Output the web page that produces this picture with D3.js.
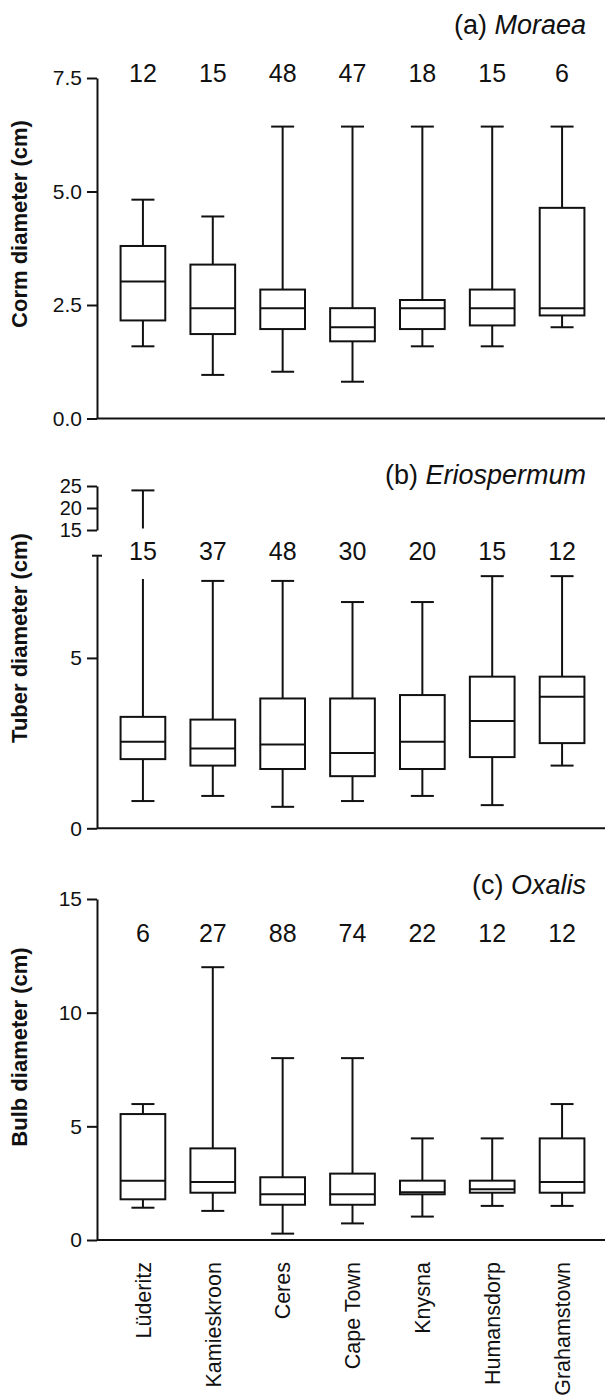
<!DOCTYPE html>
<html>
<head>
<meta charset="utf-8">
<script src="https://cdn.jsdelivr.net/npm/d3@7"></script>
<style>
  body { margin: 0; background: #fff; }
  svg { display: block; }
  text { font-family: "Liberation Sans", Arial, Helvetica, sans-serif; fill: #111; }
</style>
</head>
<body>
<div id="chart"></div>
<script>
// sites along the x axis
var sites = ["Lüderitz", "Kamieskroon", "Ceres", "Cape Town", "Knysna", "Humansdorp", "Grahamstown"];

// (a) Moraea corm diameter
var moraeaMin = [1.59, 0.96, 1.03, 0.81, 1.59, 1.59, 2.01];
var moraeaQ1  = [2.16, 1.86, 1.97, 1.70, 1.97, 2.05, 2.27];
var moraeaMed = [3.02, 2.43, 2.43, 2.01, 2.43, 2.43, 2.43];
var moraeaQ3  = [3.80, 3.39, 2.84, 2.43, 2.61, 2.84, 4.64];
var moraeaMax = [4.82, 4.45, 6.43, 6.43, 6.43, 6.43, 6.43];
var moraeaN   = [12, 15, 48, 47, 18, 15, 6];

// (b) Eriospermum tuber diameter
var erioMin = [0.80, 0.95, 0.63, 0.80, 0.95, 0.68, 1.84];
var erioQ1  = [2.03, 1.84, 1.74, 1.53, 1.74, 2.09, 2.50];
var erioMed = [2.54, 2.34, 2.46, 2.21, 2.54, 3.15, 3.86];
var erioQ3  = [3.27, 3.19, 3.81, 3.81, 3.91, 4.45, 4.45];
var erioMax = [24, 7.26, 7.26, 6.64, 6.64, 7.40, 7.40];
var erioN   = [15, 37, 48, 30, 20, 15, 12];

// (c) Oxalis bulb diameter
var oxalisMin = [1.42, 1.28, 0.28, 0.73, 1.03, 1.50, 1.50];
var oxalisQ1  = [1.79, 2.08, 1.55, 1.55, 2.01, 2.08, 2.08];
var oxalisMed = [2.61, 2.55, 2.01, 2.01, 2.10, 2.23, 2.55];
var oxalisQ3  = [5.54, 4.03, 2.76, 2.92, 2.61, 2.61, 4.47];
var oxalisMax = [5.98, 12.0, 8.0, 8.0, 4.47, 4.47, 5.98];
var oxalisN   = [6, 27, 88, 74, 22, 12, 12];

// tick labels
var moraeaTicks = [0, 2.5, 5, 7.5];
var erioTicks = [0, 5];
var erioUpperTicks = [15, 20, 25];
var oxalisTicks = [0, 5, 10, 15];

var width = 605, height = 1395;
var axisX = 97;

var svg = d3.select("#chart").append("svg")
    .attr("width", width)
    .attr("height", height);

var x = d3.scaleBand()
    .domain(sites)
    .range([108, 597])
    .paddingInner(0.36)
    .paddingOuter(0.18);

function stats(mins, q1s, meds, q3s, maxs, ns) {
  return sites.map(function(s, i) {
    return {site: s, min: mins[i], q1: q1s[i], med: meds[i], q3: q3s[i], max: maxs[i], n: ns[i]};
  });
}

function yAxis(y, ticks, fmt) {
  var g = svg.append("g")
      .attr("transform", "translate(" + axisX + ",0)")
      .call(d3.axisLeft(y).tickValues(ticks).tickFormat(fmt)
            .tickSize(10).tickSizeOuter(0).tickPadding(5));
  g.selectAll("path, line").attr("stroke", "#111").attr("stroke-width", 2);
  g.selectAll("text").style("font-size", "21px").attr("fill", "#111");
  return g;
}

function xLine(y) {
  svg.append("line")
    .attr("x1", axisX).attr("x2", width)
    .attr("y1", y(0)).attr("y2", y(0))
    .attr("stroke", "#111").attr("stroke-width", 2);
}

// whisker top is cut at wTop when the max sits on a broken axis part
function drawBoxes(data, y, nBase, wTop) {
  var bw = x.bandwidth(), cap = 23;
  var g = svg.append("g").attr("stroke", "#111").attr("stroke-width", 2).attr("fill", "none");
  var box = g.selectAll("g.box").data(data).enter().append("g")
      .attr("transform", function(d) { return "translate(" + (x(d.site) + bw / 2) + ",0)"; });

  box.append("line")
    .attr("y1", function(d) { return y(d.min); })
    .attr("y2", function(d) { return y(d.q1); });
  box.append("line")
    .attr("y1", function(d) { return y(d.q3); })
    .attr("y2", function(d) { return d.max > y.domain()[1] ? wTop : y(d.max); });
  box.append("line")
    .attr("x1", -cap / 2).attr("x2", cap / 2)
    .attr("y1", function(d) { return y(d.min); })
    .attr("y2", function(d) { return y(d.min); });
  box.filter(function(d) { return d.max <= y.domain()[1]; })
    .append("line")
    .attr("x1", -cap / 2).attr("x2", cap / 2)
    .attr("y1", function(d) { return y(d.max); })
    .attr("y2", function(d) { return y(d.max); });
  box.append("rect")
    .attr("x", -bw / 2).attr("width", bw)
    .attr("y", function(d) { return y(d.q3); })
    .attr("height", function(d) { return y(d.q1) - y(d.q3); })
    .attr("fill", "#fff");
  box.append("line")
    .attr("x1", -bw / 2).attr("x2", bw / 2)
    .attr("y1", function(d) { return y(d.med); })
    .attr("y2", function(d) { return y(d.med); });

  svg.append("g").selectAll("text").data(data).enter().append("text")
    .attr("x", function(d) { return x(d.site) + bw / 2; })
    .attr("y", nBase)
    .attr("text-anchor", "middle")
    .style("font-size", "25px")
    .text(function(d) { return d.n; });
}

function title(label, genus, yBase) {
  var t = svg.append("text")
    .attr("x", 586).attr("y", yBase)
    .attr("text-anchor", "end")
    .style("font-size", "27px");
  t.append("tspan").text(label + " ");
  t.append("tspan").style("font-style", "italic").text(genus);
}

function yLabel(txt, cy) {
  svg.append("text")
    .attr("transform", "translate(27," + cy + ") rotate(-90)")
    .attr("text-anchor", "middle")
    .style("font-size", "22px")
    .style("font-weight", "bold")
    .text(txt);
}

// (a) Moraea
var yA = d3.scaleLinear().domain([0, 7.5]).range([418.5, 78]);
yAxis(yA, moraeaTicks, d3.format(".1f"));
xLine(yA);
drawBoxes(stats(moraeaMin, moraeaQ1, moraeaMed, moraeaQ3, moraeaMax, moraeaN), yA, 81.5);
title("(a)", "Moraea", 33.5);
yLabel("Corm diameter (cm)", 224);

// (b) Eriospermum, broken axis
var yB = d3.scaleLinear().domain([0, 8]).range([828.3, 555.7]);
var yBup = d3.scaleLinear().domain([15, 25]).range([530, 486]);
yAxis(yB, erioTicks, d3.format("d"));
yAxis(yBup, erioUpperTicks, d3.format("d"))
  .selectAll("text").style("font-size", "20px");
svg.append("line")
  .attr("x1", axisX - 5).attr("x2", axisX + 5)
  .attr("y1", yB(8)).attr("y2", yB(8))
  .attr("stroke", "#111").attr("stroke-width", 2);
xLine(yB);
var erio = stats(erioMin, erioQ1, erioMed, erioQ3, erioMax, erioN);
drawBoxes(erio, yB, 560, 579);
// upper part of the broken whisker
var up = svg.append("g").attr("stroke", "#111").attr("stroke-width", 2);
erio.filter(function(d) { return d.max > yB.domain()[1]; }).forEach(function(d) {
  var cx = x(d.site) + x.bandwidth() / 2;
  up.append("line").attr("x1", cx).attr("x2", cx)
    .attr("y1", yBup(15) - 1.5).attr("y2", yBup(d.max));
  up.append("line").attr("x1", cx - 11.5).attr("x2", cx + 11.5)
    .attr("y1", yBup(d.max)).attr("y2", yBup(d.max));
});
title("(b)", "Eriospermum", 483.5);
yLabel("Tuber diameter (cm)", 638);

// (c) Oxalis
var yC = d3.scaleLinear().domain([0, 15]).range([1240, 899]);
yAxis(yC, oxalisTicks, d3.format("d"));
xLine(yC);
drawBoxes(stats(oxalisMin, oxalisQ1, oxalisMed, oxalisQ3, oxalisMax, oxalisN), yC, 941.5);
title("(c)", "Oxalis", 894);
yLabel("Bulb diameter (cm)", 1047);

// site names under the last panel
svg.append("g").selectAll("text").data(sites).enter().append("text")
  .attr("transform", function(d) {
    return "translate(" + (x(d) + x.bandwidth() / 2) + ",1262) rotate(-90)";
  })
  .attr("dy", "0.36em")
  .attr("text-anchor", "end")
  .style("font-size", "21.5px")
  .text(function(d) { return d; });
</script>
</body>
</html>
